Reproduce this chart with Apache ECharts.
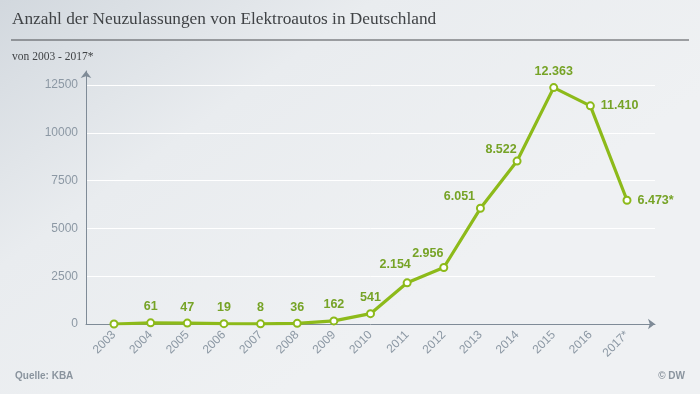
<!DOCTYPE html>
<html><head><meta charset="utf-8">
<script src="https://cdn.jsdelivr.net/npm/echarts@6/dist/echarts.min.js"></script>
<style>html,body{margin:0;padding:0;}#c{width:700px;height:394px;}</style>
</head><body><div id="c"></div>
<script>
const categories = ['2003','2004','2005','2006','2007','2008','2009','2010','2011','2012','2013','2014','2015','2016','2017*'];
const values = [0, 61, 47, 19, 8, 36, 162, 541, 2154, 2956, 6051, 8522, 12363, 11410, 6473];
const valueLabels = ['', '61', '47', '19', '8', '36', '162', '541', '2.154', '2.956', '6.051', '8.522', '12.363', '11.410', '6.473*'];
const yTicks = [0, 2500, 5000, 7500, 10000, 12500];

// label placement per point (style only)
const labelStyle = {
  8: {position: 'top', offset: [-12, -2]},
  9: {position: 'top', offset: [-16, 2]},
  10: {position: 'top', offset: [-21, 4]},
  11: {position: 'top', offset: [-16, 4]},
  13: {position: 'right', distance: 6},
  14: {position: 'right', distance: 6}
};

const green = '#8dba1a';
const labelGreen = '#76a326';
const gray = '#8c98a4';
const font = '"Liberation Sans", Arial, sans-serif';
const serif = '"Liberation Serif", Georgia, serif';

const data = values.map((v, i) => {
  const item = {value: v};
  if (labelStyle[i]) item.label = labelStyle[i];
  return item;
});

const chart = echarts.init(document.getElementById('c'), null, {renderer: 'canvas'});
chart.setOption({
  backgroundColor: new echarts.graphic.LinearGradient(0, 0, 0.4, 1, [
    {offset: 0, color: '#d2d8de'},
    {offset: 0.45, color: '#e9ecef'},
    {offset: 1, color: '#eff1f3'}
  ]),
  animation: false,
  title: [
    {text: 'Anzahl der Neuzulassungen von Elektroautos in Deutschland', left: 12, top: 11, padding: 0,
     textStyle: {fontFamily: serif, fontWeight: 'normal', fontSize: 17.3, color: '#404346'}},
    {text: 'von 2003 - 2017*', left: 12, top: 51, padding: 0,
     textStyle: {fontFamily: serif, fontWeight: 'normal', fontSize: 11.5, color: '#404346'}},
    {text: 'Quelle: KBA', left: 15, top: 371, padding: 0,
     textStyle: {fontFamily: font, fontWeight: 'bold', fontSize: 10, color: '#8a949e'}},
    {text: '© DW', right: 15, top: 371, padding: 0,
     textStyle: {fontFamily: font, fontWeight: 'bold', fontSize: 10, color: '#8a949e'}}
  ],
  graphic: [
    {type: 'line', shape: {x1: 11, y1: 40, x2: 689, y2: 40}, style: {stroke: '#4a4d50', lineWidth: 1}}
  ],
  grid: [
    {left: 86, right: 45, top: 85, bottom: 70},
    {left: 86, right: 45, top: 71, bottom: 70},
    {left: 114, right: 73, top: 85, bottom: 70}
  ],
  xAxis: [
    {gridIndex: 0, type: 'value', min: 0, max: 1,
     axisLine: {show: true, symbol: ['none', 'arrow'], symbolSize: [8, 7], lineStyle: {color: '#7f8b97', width: 1}},
     axisTick: {show: false}, axisLabel: {show: false}, splitLine: {show: false}},
    {gridIndex: 1, type: 'value', min: 0, max: 1, show: false},
    {gridIndex: 2, type: 'category', data: categories, boundaryGap: false,
     axisLine: {show: false}, axisTick: {show: false}, splitLine: {show: false},
     axisLabel: {rotate: 45, color: gray, fontFamily: font, fontSize: 12, margin: 9, interval: 0}}
  ],
  yAxis: [
    {gridIndex: 0, type: 'value', min: 0, max: 12500, interval: 2500,
     axisLine: {show: false}, axisTick: {show: false},
     axisLabel: {color: gray, fontFamily: font, fontSize: 12, margin: 8, formatter: v => String(v)},
     splitLine: {show: true, showMinLine: false, lineStyle: {color: '#ffffff', width: 1}}},
    {gridIndex: 1, type: 'value', min: 0, max: 1,
     axisLine: {show: true, symbol: ['none', 'arrow'], symbolSize: [8, 7], lineStyle: {color: '#7f8b97', width: 1}},
     axisTick: {show: false}, axisLabel: {show: false}, splitLine: {show: false}},
    {gridIndex: 2, type: 'value', min: 0, max: 12500, show: false}
  ],
  series: [{
    type: 'line', xAxisIndex: 2, yAxisIndex: 2, data: data,
    symbol: 'circle', symbolSize: 7, showAllSymbol: true,
    lineStyle: {color: green, width: 3.2},
    itemStyle: {color: '#ffffff', borderColor: green, borderWidth: 2},
    label: {show: true, position: 'top', distance: 5, color: labelGreen, fontFamily: font, fontWeight: 'bold', fontSize: 12.5,
      formatter: p => valueLabels[p.dataIndex]}
  }]
});
</script></body></html>
